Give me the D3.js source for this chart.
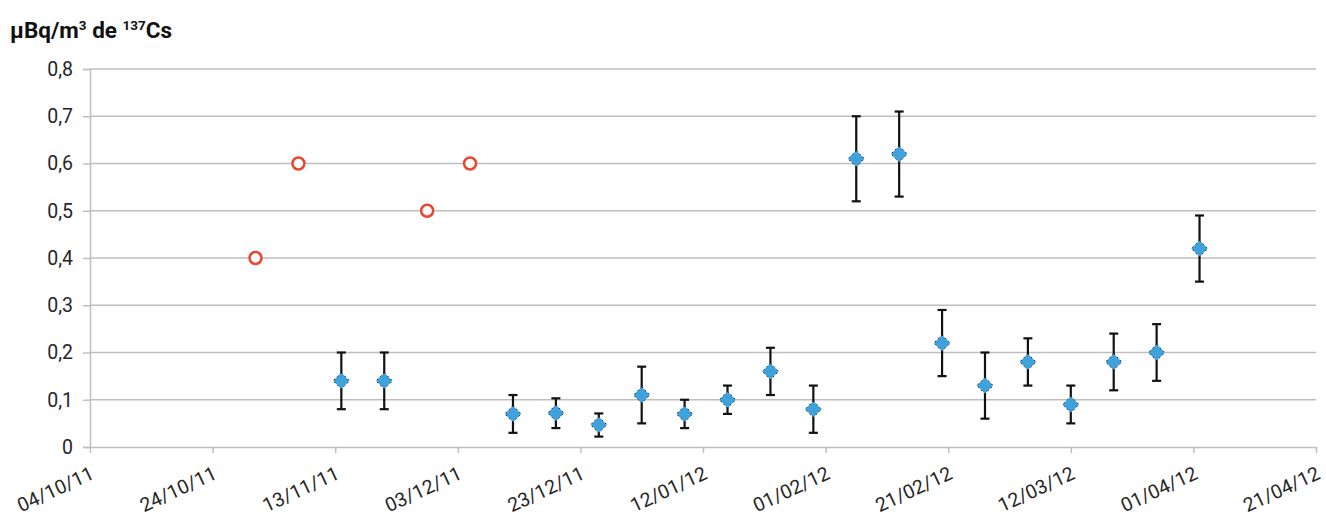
<!DOCTYPE html>
<html>
<head>
<meta charset="utf-8">
<script src="https://cdn.jsdelivr.net/npm/d3@7"></script>
<style>
  html, body { margin: 0; padding: 0; background: #fff; }
  svg { display: block; }
  .tick text { font-family: Roboto, sans-serif; font-weight: 400; font-size: 19.5px; fill: #262626; }
</style>
</head>
<body>
<svg id="chart" width="1326" height="516"></svg>
<script>
// 137Cs activity in air (µBq/m³), weekly filters with uncertainty
const measuredDates = ["2011-11-14","2011-11-21","2011-12-12","2011-12-19","2011-12-26",
  "2012-01-02","2012-01-09","2012-01-16","2012-01-23","2012-01-30","2012-02-06","2012-02-13",
  "2012-02-20","2012-02-27","2012-03-05","2012-03-12","2012-03-19","2012-03-26","2012-04-02"];
const measuredValues = [0.14,0.14,0.07,0.072,0.047,0.11,0.07,0.10,0.16,0.08,0.61,0.62,
  0.22,0.13,0.18,0.09,0.18,0.20,0.42];
const errorLow  = [0.08,0.08,0.03,0.04,0.022,0.05,0.04,0.07,0.11,0.03,0.52,0.53,
  0.15,0.06,0.13,0.05,0.12,0.14,0.35];
const errorHigh = [0.20,0.20,0.11,0.103,0.071,0.17,0.10,0.13,0.21,0.13,0.70,0.71,
  0.29,0.20,0.23,0.13,0.24,0.26,0.49];

// Detection limits (values below limit)
const limitDates = ["2011-10-31","2011-11-07","2011-11-28","2011-12-05"];
const limitValues = [0.4,0.6,0.5,0.6];

const xTickDates = ["2011-10-04","2011-10-24","2011-11-13","2011-12-03","2011-12-23",
  "2012-01-12","2012-02-01","2012-02-21","2012-03-12","2012-04-01","2012-04-21"];
const yTicks = [0,0.1,0.2,0.3,0.4,0.5,0.6,0.7,0.8];

const parse = d3.utcParse("%Y-%m-%d");
const fmtDate = d3.utcFormat("%d/%m/%y");
const fmtNum = v => String(v).replace(".", ",");

const svg = d3.select("#chart");
const plotLeft = 90, plotRight = 1316, plotTop = 69, plotBottom = 447;

const x = d3.scaleUtc()
  .domain([parse(xTickDates[0]), parse(xTickDates[xTickDates.length - 1])])
  .range([plotLeft, plotRight]);
const y = d3.scaleLinear().domain([0, 0.8]).range([plotBottom, plotTop]);

const gridColor = "#bfbfbf";

// horizontal gridlines
svg.append("g")
  .selectAll("line")
  .data(yTicks.filter(v => v > 0))
  .join("line")
  .attr("x1", plotLeft).attr("x2", plotRight)
  .attr("y1", d => y(d)).attr("y2", d => y(d))
  .attr("stroke", gridColor).attr("stroke-width", 1.5);

// y axis
const yAxis = svg.append("g")
  .attr("transform", `translate(${plotLeft},0)`)
  .call(d3.axisLeft(y).tickValues(yTicks).tickFormat(fmtNum).tickSize(7).tickPadding(10));
yAxis.select(".domain").attr("stroke", gridColor).attr("stroke-width", 1.5);
yAxis.selectAll(".tick line").attr("stroke", gridColor).attr("stroke-width", 1.5);

// x axis
const xAxis = svg.append("g")
  .attr("transform", `translate(0,${plotBottom})`)
  .call(d3.axisBottom(x).tickValues(xTickDates.map(parse)).tickFormat(fmtDate).tickSize(6).tickSizeOuter(0));
xAxis.select(".domain").attr("stroke", gridColor).attr("stroke-width", 1.5);
xAxis.selectAll(".tick text")
  .attr("text-anchor", "end")
  .attr("dy", null)
  .attr("transform", "translate(5,31) rotate(-25)")
  .attr("x", 0).attr("y", 0);
xAxis.selectAll(".tick line").attr("stroke", gridColor).attr("stroke-width", 1.5);

// error bars
const eb = svg.append("g").attr("stroke", "#111").attr("stroke-width", 2.2);
measuredDates.forEach((d, i) => {
  const cx = x(parse(d));
  eb.append("line").attr("x1", cx).attr("x2", cx)
    .attr("y1", y(errorLow[i])).attr("y2", y(errorHigh[i]));
  [errorLow[i], errorHigh[i]].forEach(v => {
    eb.append("line").attr("x1", cx - 4.5).attr("x2", cx + 4.5)
      .attr("y1", y(v)).attr("y2", y(v));
  });
});

// measured values: blue diamonds
const diamond = d3.symbol().type(d3.symbolDiamond2).size(170);
svg.append("g")
  .selectAll("path")
  .data(measuredDates.map((d, i) => [parse(d), measuredValues[i]]))
  .join("path")
  .attr("d", diamond)
  .attr("transform", d => `translate(${x(d[0])},${y(d[1])})`)
  .attr("fill", "#3fa2dc")
  .attr("stroke", "#1a1a1a")
  .attr("stroke-width", 1)
  .attr("stroke-dasharray", "1.5,3");

// detection limits: open red circles
svg.append("g")
  .selectAll("circle")
  .data(limitDates.map((d, i) => [parse(d), limitValues[i]]))
  .join("circle")
  .attr("cx", d => x(d[0]))
  .attr("cy", d => y(d[1]))
  .attr("r", 6)
  .attr("fill", "#fff")
  .attr("stroke", "#e8472f")
  .attr("stroke-width", 2.5);

// unit title
const title = svg.append("text")
  .attr("x", 10).attr("y", 38)
  .attr("font-family", "Roboto, sans-serif")
  .attr("font-weight", 700)
  .attr("font-size", 22.5)
  .attr("fill", "#111");
title.append("tspan").text("µBq/m");
title.append("tspan").attr("font-size", 13.5).attr("dy", -8).text("3");
title.append("tspan").attr("dy", 8).text(" de ");
title.append("tspan").attr("font-size", 13.5).attr("dy", -8).text("137");
title.append("tspan").attr("dy", 8).text("Cs");
</script>
</body>
</html>
